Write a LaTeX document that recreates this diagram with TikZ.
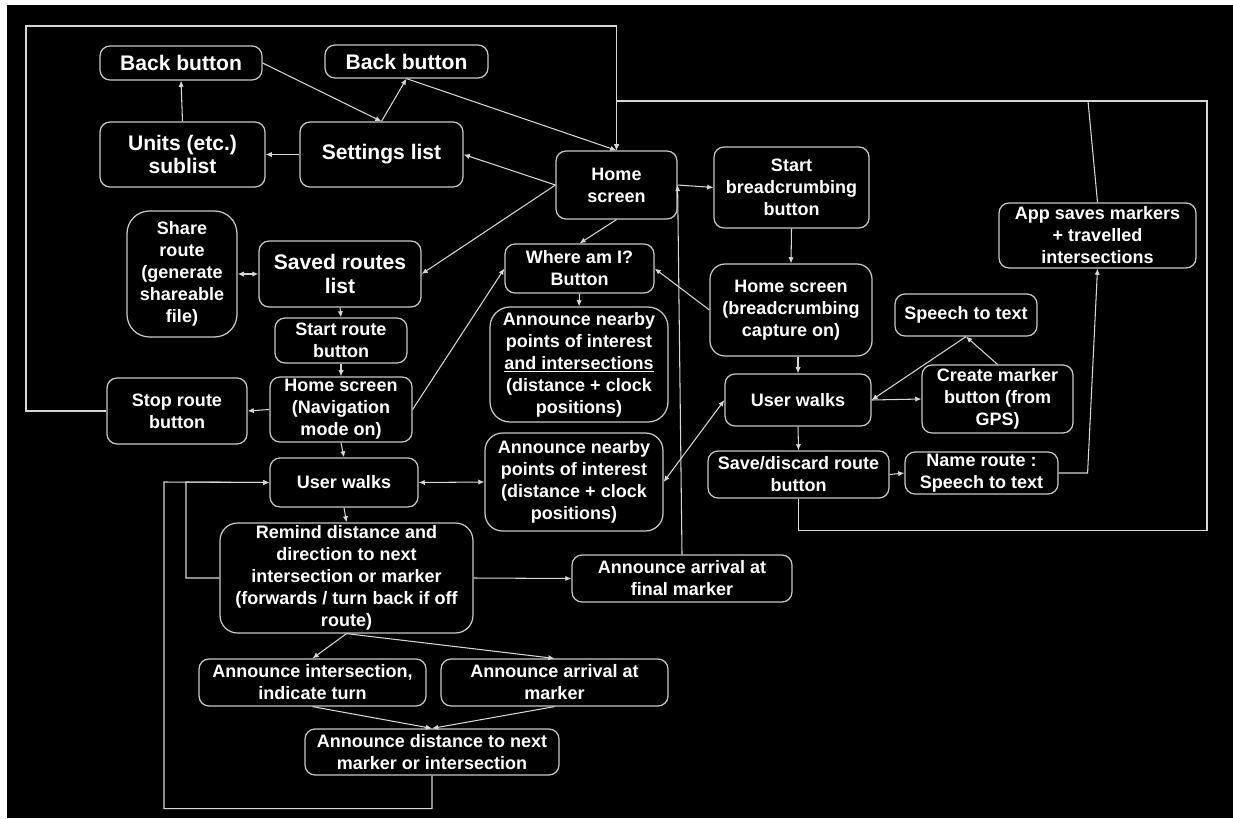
\documentclass[tikz,border=0pt]{standalone}
\usepackage{fontspec}
\setmainfont{Liberation Sans}
\usetikzlibrary{arrows.meta}
\definecolor{lineclr}{RGB}{214,214,214}
\definecolor{boxclr}{RGB}{200,200,200}
\begin{document}
\begin{tikzpicture}[x=0.02cm, y=-0.02cm,
	box/.style={rectangle,draw=boxclr,line width=0.7pt,rounded corners=0.2cm,text=white,align=center,inner sep=0pt,font=\bfseries\fontsize{10.25}{12.5}\selectfont},
	bigbox/.style={box,font=\bfseries\fontsize{12}{13.3}\selectfont},
	link/.style={draw=lineclr,line width=0.6pt,-{Latex[length=3.5pt,width=3pt]}},
	twoway/.style={link,{Latex[length=3.5pt,width=3pt]}-{Latex[length=3.5pt,width=3pt]}},
	plain/.style={draw=lineclr,line width=0.6pt}]
	% Background
	\fill [white] (0,0) rectangle (1233,818);
	\fill [black] (7,5) rectangle (1233,818);

	% Place nodes
	\node [bigbox,minimum width=3.24cm,minimum height=0.68cm] (back1) at (181,63) {Back button};
	\node [bigbox,minimum width=3.26cm,minimum height=0.66cm] (back2) at (406.5,61.5) {Back button};
	\node [bigbox,minimum width=3.3cm,minimum height=1.3cm] (units) at (182.5,154.5) {Units (etc.)\\sublist};
	\node [bigbox,minimum width=3.26cm,minimum height=1.3cm] (settings) at (381.5,154.5) {Settings list};
	\node [box,minimum width=2.42cm,minimum height=1.36cm] (home) at (616.5,185) {Home\\screen};
	\node [box,minimum width=3.1cm,minimum height=1.62cm] (startbc) at (791.5,187.5) {Start\\breadcrumbing\\button};
	\node [box,minimum width=3.94cm,minimum height=1.3cm] (appsaves) at (1097.5,235.5) {App saves markers\\+ travelled\\intersections};
	\node [box,rounded corners=0.45cm,minimum width=2.2cm,minimum height=2.52cm] (share) at (182,274) {Share\\route\\(generate\\shareable\\file)};
	\node [bigbox,minimum width=3.24cm,minimum height=1.32cm] (saved) at (340,274) {Saved routes\\list};
	\node [box,minimum width=2.64cm,minimum height=0.9cm] (startroute) at (341,340.5) {Start route\\button};
	\node [box,minimum width=2.84cm,minimum height=1.3cm] (homenav) at (341,409.5) {Home screen\\(Navigation\\mode on)};
	\node [box,minimum width=2.8cm,minimum height=1.32cm] (stoproute) at (177,411) {Stop route\\button};
	\node [box,minimum width=2.98cm,minimum height=0.98cm] (whereami) at (579.5,268.5) {Where am I?\\Button};
	\node [box,rounded corners=0.4cm,minimum width=3.56cm,minimum height=2.3cm] (nearby1) at (579,364.5) {Announce nearby\\points of interest\\\underline{and intersections}\\(distance + clock\\positions)};
	\node [box,rounded corners=0.3cm,minimum width=3.24cm,minimum height=1.84cm] (homebc) at (791,310) {Home screen\\(breadcrumbing\\capture on)};
	\node [box,minimum width=2.84cm,minimum height=0.84cm] (speech) at (966,315) {Speech to text};
	\node [box,minimum width=2.92cm,minimum height=1.04cm] (walks2) at (798,400) {User walks};
	\node [box,minimum width=3.02cm,minimum height=1.36cm] (marker) at (997.5,399) {Create marker\\button (from\\GPS)};
	\node [box,minimum width=3.62cm,minimum height=0.94cm] (savedisc) at (798.5,474.5) {Save/discard route\\button};
	\node [box,minimum width=3.06cm,minimum height=0.84cm] (nameroute) at (981.5,473) {Name route :\\Speech to text};
	\node [box,rounded corners=0.35cm,minimum width=3.56cm,minimum height=1.96cm] (nearby2) at (574,482) {Announce nearby\\points of interest\\(distance + clock\\positions)};
	\node [box,minimum width=2.96cm,minimum height=0.98cm] (walks1) at (344,482.5) {User walks};
	\node [box,rounded corners=0.35cm,minimum width=5.06cm,minimum height=2.2cm] (remind) at (346.5,578) {Remind distance and\\direction to next\\intersection or marker\\(forwards / turn back if off\\route)};
	\node [box,minimum width=4.4cm,minimum height=0.94cm] (finalm) at (682,578.5) {Announce arrival at\\final marker};
	\node [box,minimum width=4.54cm,minimum height=0.94cm] (annint) at (312.5,682.5) {Announce intersection,\\indicate turn};
	\node [box,minimum width=4.54cm,minimum height=0.94cm] (annarr) at (554.5,682.5) {Announce arrival at\\marker};
	\node [box,minimum width=5.08cm,minimum height=0.92cm] (anndist) at (432,752) {Announce distance to next\\marker or intersection};

	% Settings branch
	\draw [link] (units.north) -- (back1.south);
	\draw [link] (settings.west) -- (units.east);
	\draw [link] (back1.east) -- (settings.north);
	\draw [link] (settings.north) -- (back2.south);
	\draw [link] (back2.south) -- (home.north);
	\draw [link] (home.west) -- (settings.east);
	\draw [link] (home.west) -- (saved.east);
	\draw [link] (home.south) -- (whereami.north);
	\draw [link] (home.east) -- (startbc.west);
	\draw [link] (finalm.north) -- (home.east);

	% Breadcrumbing branch
	\draw [link] (startbc.south) -- (homebc.north);
	\draw [link] (homebc.west) -- (whereami.east);
	\draw [link] (walks2.north |- homebc.south) -- (walks2.north);
	\draw [link] (walks2.east) -- (marker.west);
	\draw [link] (marker.north) -- (speech.south);
	\draw [link] (speech.south) -- (walks2.east);
	\draw [link] (walks2.south) -- (savedisc.north);
	\draw [link] (savedisc.east) -- (nameroute.west);
	\draw [link] (nameroute.east) -- ++(29,0) -- (appsaves.south);
	\draw [link] (savedisc.south) -- ++(0,32) -| (1207,101) -| (home.north);
	\draw [plain] (appsaves.north) -- (1088,101);
	\draw [link] (stoproute.west) -| (26,26) -| (home.north);

	% Navigation branch
	\draw [twoway] (share.east) -- (saved.west);
	\draw [link] (saved.south) -- (startroute.north);
	\draw [link] (startroute.south) -- (homenav.north);
	\draw [link] (homenav.west) -- (stoproute.east);
	\draw [link] (homenav.east) -- (whereami.west);
	\draw [link] (whereami.south) -- (nearby1.north);
	\draw [link] (homenav.south) -- (walks1.north);
	\draw [twoway] (walks1.east) -- (nearby2.west);
	\draw [twoway] (nearby2.east) -- (walks2.west);
	\draw [link] (walks1.south) -- (remind.north);
	\draw [link] (remind.east) -- (finalm.west);
	\draw [link] (remind.south) -- (annint.north);
	\draw [link] (remind.south) -- (annarr.north);
	\draw [link] (annint.south) -- (anndist.north);
	\draw [link] (annarr.south) -- (anndist.north);
	\draw [link] (remind.west) -| (186,482) -- (walks1.west);
	\draw [link] (anndist.south) -- ++(0,33) -| (164,482) -- (walks1.west);
\end{tikzpicture}
\end{document}
